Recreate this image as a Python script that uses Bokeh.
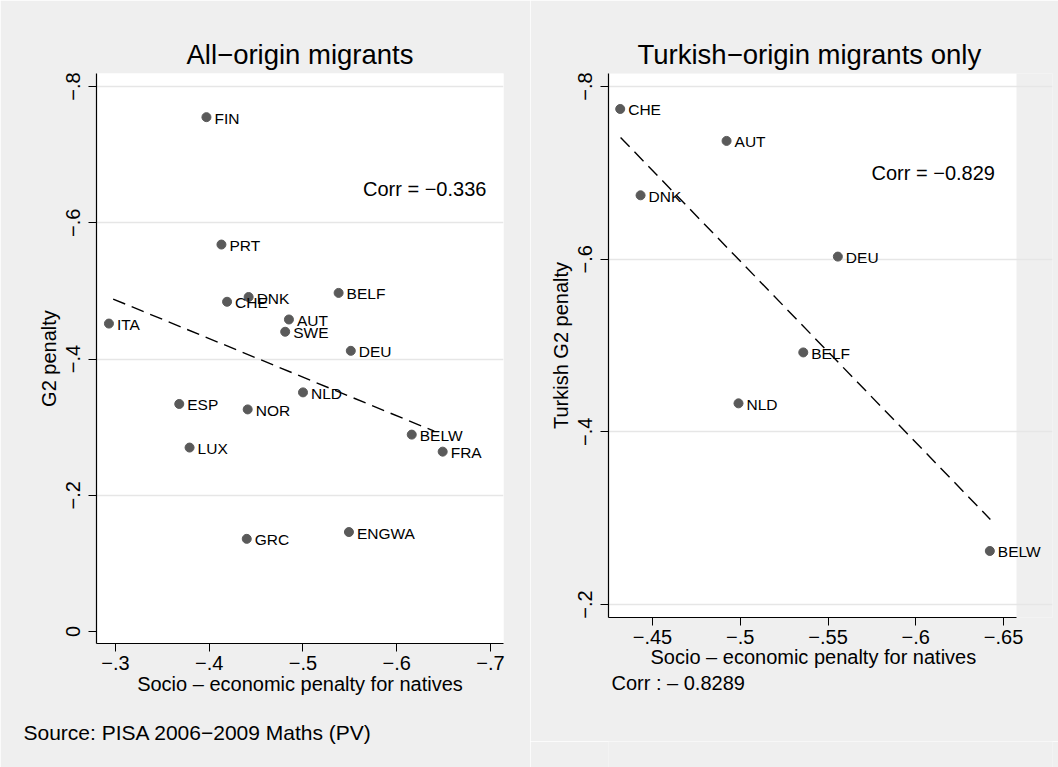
from bokeh.plotting import figure
from bokeh.layouts import row, column
from bokeh.models import Range1d, FixedTicker, Label, ColumnDataSource, Title
from bokeh.embed import file_html
from bokeh.resources import INLINE

# ---------------- data ----------------
# Left panel: all-origin migrants
all_country = ["FIN", "PRT", "CHE", "DNK", "BELF", "ITA", "AUT", "SWE", "DEU",
               "NLD", "ESP", "NOR", "BELW", "FRA", "LUX", "GRC", "ENGWA"]
all_native_pen = [-0.397, -0.413, -0.419, -0.442, -0.538, -0.293, -0.485, -0.481, -0.551,
                  -0.500, -0.368, -0.441, -0.616, -0.649, -0.379, -0.440, -0.549]
all_g2_pen = [-0.755, -0.568, -0.484, -0.491, -0.497, -0.452, -0.458, -0.440, -0.412,
              -0.351, -0.334, -0.326, -0.289, -0.264, -0.270, -0.136, -0.146]
all_fit_x = [-0.2975, -0.640]
all_fit_y = [-0.488, -0.294]

# Right panel: Turkish-origin migrants only
tur_country = ["CHE", "AUT", "DNK", "DEU", "BELF", "NLD", "BELW"]
tur_native_pen = [-0.4316, -0.4922, -0.4432, -0.5556, -0.5359, -0.4990, -0.6422]
tur_g2_pen = [-0.774, -0.737, -0.674, -0.603, -0.492, -0.433, -0.262]
tur_fit_x = [-0.4318, -0.6425]
tur_fit_y = [-0.741, -0.2985]

# tick values / labels
left_xticks = [-0.3, -0.4, -0.5, -0.6, -0.7]
left_xlabels = ["\u2212.3", "\u2212.4", "\u2212.5", "\u2212.6", "\u2212.7"]
left_yticks = [0, -0.2, -0.4, -0.6, -0.8]
left_ylabels = ["0", "\u2212.2", "\u2212.4", "\u2212.6", "\u2212.8"]
left_ygrid = [-0.2, -0.4, -0.6, -0.8]
right_xticks = [-0.45, -0.5, -0.55, -0.6, -0.65]
right_xlabels = ["\u2212.45", "\u2212.5", "\u2212.55", "\u2212.6", "\u2212.65"]
right_yticks = [-0.2, -0.4, -0.6, -0.8]
right_ylabels = ["\u2212.2", "\u2212.4", "\u2212.6", "\u2212.8"]

XLABEL = "Socio \u2013 economic penalty for natives"
FONT = "Liberation Sans"
BG = "#efefef"
MARK = "#5a5a5a"


def make_panel(title, xs, ys, names, fx, fy, xr, yr, xt, xl, yt, yl, yg,
               ylabel, width, height, bl, br, corr_text, corr_xy,
               white_right=None, title_offset=None, xlabel_offset=None):
    p = figure(width=width, height=height, output_backend="svg", toolbar_location=None,
               x_range=Range1d(*xr), y_range=Range1d(*yr),
               min_border_left=bl, min_border_right=br, min_border_top=73,
               min_border_bottom=124)
    p.border_fill_color = BG
    p.background_fill_color = "white"
    p.outline_line_color = None

    p.title.text = title
    if title_offset is None:
        p.title.align = "center"
    else:
        p.title.align = "left"
        p.title.offset = title_offset
    p.title.text_font = FONT
    p.title.text_font_size = "27.5px"
    p.title.text_font_style = "normal"
    p.title.text_color = "black"
    p.title.standoff = 8

    p.xgrid.visible = False
    p.ygrid.ticker = FixedTicker(ticks=yg)
    p.ygrid.grid_line_color = "#e6e6e6"
    p.ygrid.grid_line_width = 1.6

    p.xaxis.ticker = FixedTicker(ticks=xt)
    p.xaxis.major_label_overrides = dict(zip(xt, xl))
    p.yaxis.ticker = FixedTicker(ticks=yt)
    p.yaxis.major_label_overrides = dict(zip(yt, yl))
    p.yaxis.major_label_orientation = "vertical"

    for ax in (p.xaxis, p.yaxis):
        ax.axis_line_color = "black"
        ax.axis_line_width = 1.2
        ax.major_tick_line_color = "black"
        ax.major_tick_out = 8
        ax.major_tick_in = 0
        ax.minor_tick_line_color = None
        ax.major_label_text_font = FONT
        ax.major_label_text_font_size = "20px"
        ax.major_label_text_color = "black"
        ax.axis_label_text_font = FONT
        ax.axis_label_text_font_size = "20px"
        ax.axis_label_text_font_style = "normal"
        ax.axis_label_text_color = "black"
    p.xaxis.major_label_standoff = 4
    p.xaxis.axis_label_standoff = 0
    p.yaxis.major_label_standoff = 8
    p.yaxis.axis_label_standoff = 4
    p.yaxis.axis_label = ylabel

    if white_right is None:
        p.xaxis.axis_label = XLABEL
    else:
        # plot region ends before the frame does, so that labels are not cut off
        p.background_fill_color = BG
        p.quad(left=xr[0], right=white_right, bottom=yr[0], top=yr[1],
               fill_color="white", line_color=None, level="image")
        p.ygrid.bounds = (xr[0], white_right)
        p.xaxis.bounds = (xr[0], white_right)
        p.add_layout(Title(text=XLABEL, align="left", offset=xlabel_offset, standoff=-5,
                           text_font=FONT, text_font_size="20px",
                           text_font_style="normal", text_color="black"), "below")

    src = ColumnDataSource(dict(x=xs, y=ys, name=names))
    p.line(fx, fy, line_color="black", line_width=1.4, line_dash="13 7")
    p.scatter("x", "y", source=src, size=9, fill_color=MARK, line_color=MARK)
    p.text("x", "y", text="name", source=src, x_offset=8, y_offset=1,
           text_baseline="middle", text_align="left",
           text_font_size="15.5px", text_color="black", text_font={"value": FONT})

    p.add_layout(Label(x=corr_xy[0], y=corr_xy[1], text=corr_text,
                       text_font=FONT, text_font_size="20px", text_color="black",
                       text_baseline="middle"))
    return p


left = make_panel("All\u2212origin migrants", all_native_pen, all_g2_pen, all_country,
                  all_fit_x, all_fit_y, (-0.27973, -0.71387), (0.01761, -0.81908),
                  left_xticks, left_xlabels, left_yticks, left_ylabels, left_ygrid,
                  "G2 penalty", 530, 767, 96, 27, "Corr = \u22120.336", (-0.5640, -0.6498))
left.add_layout(Title(text="Source: PISA 2006\u22122009 Maths (PV)", align="left", offset=-73,
                      standoff=43, text_font=FONT, text_font_size="21px",
                      text_font_style="normal", text_color="black"), "below")

right = make_panel("Turkish\u2212origin migrants only", tur_native_pen, tur_g2_pen, tur_country,
                   tur_fit_x, tur_fit_y, (-0.42493, -0.6779), (-0.18494, -0.8151),
                   right_xticks, right_xlabels, right_yticks, right_ylabels, right_yticks,
                   "Turkish G2 penalty", 528, 741, 78, 6, "Corr = \u22120.829", (-0.5748, -0.6995),
                   white_right=-0.6574, title_offset=29, xlabel_offset=42)
right.add_layout(Title(text="Corr : \u2013 0.8289", align="left", offset=3,
                       standoff=8, text_font=FONT, text_font_size="20px",
                       text_font_style="normal", text_color="black"), "below")

# plain grey strip under the right panel so the page background matches
filler = figure(width=528, height=26, output_backend="svg", toolbar_location=None,
                min_border=0, x_range=Range1d(0, 1), y_range=Range1d(0, 1))
filler.border_fill_color = BG
filler.background_fill_color = BG
filler.outline_line_color = None
filler.axis.visible = False
filler.grid.visible = False

layout = row(left, column(right, filler, spacing=0), spacing=0)
open("out.html", "w").write(file_html(layout, INLINE))
